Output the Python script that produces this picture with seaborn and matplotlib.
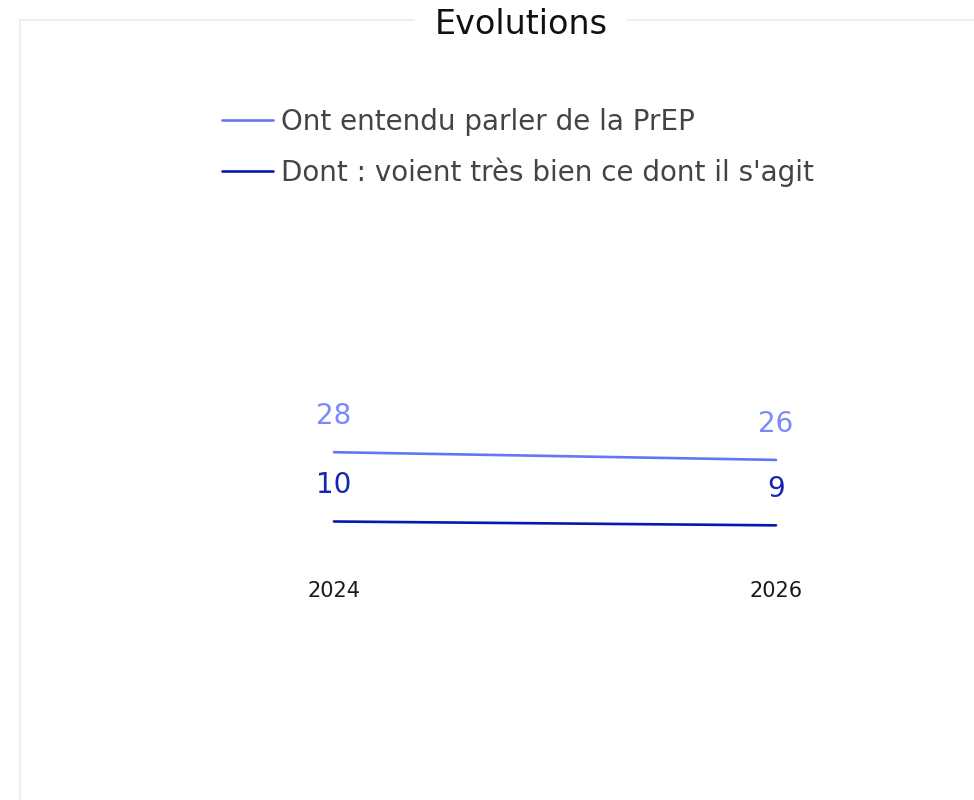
import matplotlib
matplotlib.use("Agg")
import matplotlib.pyplot as plt
import pandas as pd
import seaborn as sb
from matplotlib.patches import Rectangle

# data
annees = [2024, 2026]
series = ["Ont entendu parler de la PrEP", "Dont : voient très bien ce dont il s'agit"]
entendu = [28, 26]
voient = [10, 9]
couleurs_lignes = ["#6476F8", "#0818B0"]
couleurs_labels = ["#7A8AFA", "#1626B2"]

dfEvol = pd.DataFrame({
    "annee": annees + annees,
    "valeur": entendu + voient,
    "serie": [series[0]] * 2 + [series[1]] * 2,
})

sb.set_style("white")
plt.rcParams['font.family'] = ['DejaVu Sans']

fig = plt.figure(figsize=(9.74, 8.0), dpi=100)
ax = fig.add_axes([334 / 974, 0.3, 442 / 974, 385 / 800])

sb.lineplot(data=dfEvol, x="annee", y="valeur", hue="serie",
            palette=dict(zip(series, couleurs_lignes)), linewidth=1.9,
            legend=False, ax=ax, clip_on=False)

ax.set_xlim(annees[0], annees[-1])
ax.set_ylim(0, 100)
ax.set_xticks(annees)
ax.set_xticklabels([str(a) for a in annees], fontsize=15, color="#1a1a1a")
ax.set_yticks([])
ax.set_xlabel("")
ax.set_ylabel("")
ax.tick_params(axis="x", length=0, pad=15)
for s in ax.spines.values():
    s.set_visible(False)

# value labels above each point
for vals, col in zip([entendu, voient], couleurs_labels):
    for a, v in zip(annees, vals):
        ax.annotate(str(v), (a, v), xytext=(0, 26), textcoords="offset points",
                    ha="center", va="center", fontsize=20, color=col)

# legend
handles = [plt.Line2D([], [], color=c, linewidth=1.9) for c in couleurs_lignes]
fig.legend(handles, series, loc="upper left", bbox_to_anchor=(222 / 974, 1 - 108 / 800),
           frameon=False, fontsize=20, handlelength=1.83, handletextpad=0.29,
           labelspacing=0.78, borderpad=0, borderaxespad=0, labelcolor="#444444")

# panel border, open to the right and bottom
fig.patches.append(Rectangle((19.5 / 974, -0.1), 1.2, 1 - 20.5 / 800 + 0.1,
                             transform=fig.transFigure, fill=False,
                             edgecolor="#ebebeb", linewidth=1.2))
fig.text(521 / 974, 1 - 25 / 800, "Evolutions", ha="center", va="center",
         fontsize=24, color="#111111",
         bbox=dict(facecolor="white", edgecolor="none", pad=14))

plt.savefig("out.png", dpi=100)
